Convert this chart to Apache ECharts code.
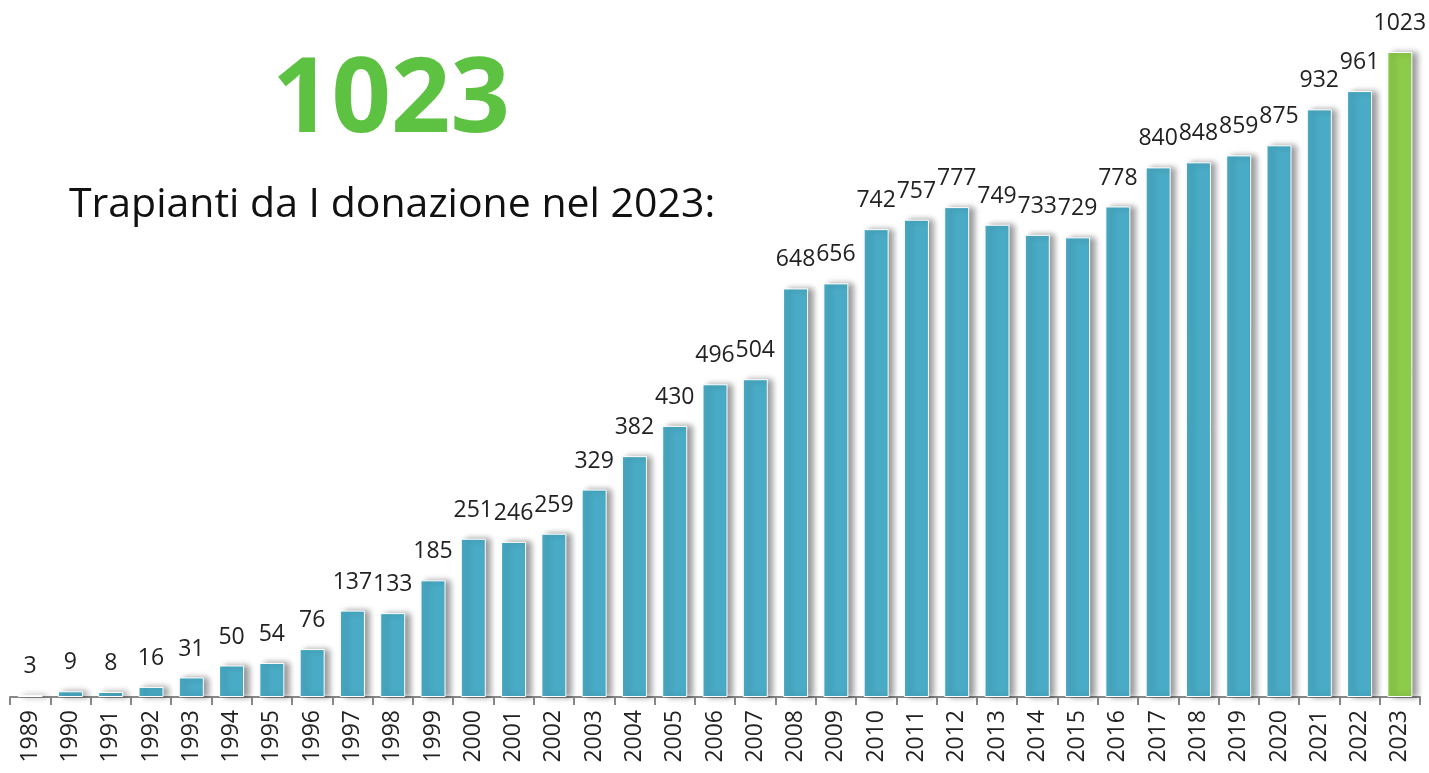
<!DOCTYPE html>
<html>
<head>
<meta charset="utf-8">
<script src="https://cdn.jsdelivr.net/npm/echarts@6/dist/echarts.min.js"></script>
<style>
html,body{margin:0;padding:0;background:#fff;}
#chart{width:1429px;height:773px;}
</style>
</head>
<body>
<div id="chart"></div>
<script>
const years = ['1989','1990','1991','1992','1993','1994','1995','1996','1997','1998','1999','2000','2001','2002','2003','2004','2005','2006','2007','2008','2009','2010','2011','2012','2013','2014','2015','2016','2017','2018','2019','2020','2021','2022','2023'];
const transplants = [3,9,8,16,31,50,54,76,137,133,185,251,246,259,329,382,430,496,504,648,656,742,757,777,749,733,729,778,840,848,859,875,932,961,1023];
const highlightYear = '2023';
const headline = '1023';
const subtitle = 'Trapianti da I donazione nel 2023:';

const chart = echarts.init(document.getElementById('chart'));
const data = transplants.map((v, i) => ({
  value: v,
  itemStyle: { color: years[i] === highlightYear ? '#8DCB4A' : '#49ABC5' }
}));
chart.setOption({
  animation: false,
  title: [
    { text: headline, left: 386, top: 45, textAlign: 'center',
      textStyle: { fontFamily: 'Open Sans', fontWeight: 'bold', fontSize: 104, color: '#5DC142' } },
    { text: subtitle, left: 64, top: 180,
      textStyle: { fontFamily: 'Open Sans', fontWeight: 'normal', fontSize: 41, color: '#111' } }
  ],
  grid: { left: 10, right: 9, top: 52, bottom: 76, containLabel: false },
  xAxis: {
    type: 'category', data: years,
    axisLine: { lineStyle: { color: '#888', width: 2 } },
    axisTick: { show: true, length: 8, lineStyle: { color: '#888', width: 2 } },
    axisLabel: { rotate: 90, fontSize: 23, color: '#222', fontFamily: 'Open Sans', margin: 13 }
  },
  yAxis: { type: 'value', min: 0, max: 1023, show: false, splitLine: { show: false } },
  series: [{
    type: 'bar', data: data, barWidth: 25,
    itemStyle: { borderColor: '#fff', borderWidth: 1,
      shadowColor: 'rgba(0,0,0,0.4)', shadowBlur: 6, shadowOffsetX: 5, shadowOffsetY: 0 },
    label: { show: true, position: 'top', distance: 17, fontSize: 23, color: '#222', fontFamily: 'Open Sans' }
  }]
});
</script>
</body>
</html>
